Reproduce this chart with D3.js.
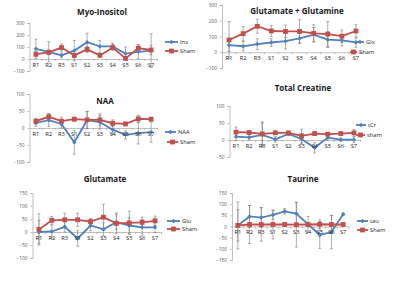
<!DOCTYPE html>
<html>
<head>
<meta charset="utf-8">
<script src="https://cdn.jsdelivr.net/npm/d3@7"></script>
<style>
  body { margin: 0; background: #fff; }
  svg text { font-family: "Open Sans", "Noto Sans", sans-serif; }
  .title { font-weight: bold; font-size: 8px; fill: #1a1a1a; }
  .tick text { font-size: 4.8px; fill: #595959; }
  .cat { font-size: 5.8px; fill: #262626; }
  .leg { font-size: 5.8px; fill: #262626; }
</style>
</head>
<body>
<svg id="chart" width="400" height="300"></svg>
<script>
// categories shared by every panel
const cats = ["R1", "R2", "R3", "S1", "S2", "S3", "S4", "S5", "S6", "S7"];

// Myo-Inositol
const myoIns = [85, 60, 30, 70, 140, 105, 105, 45, 60, 70];
const myoInsErr = [80, 85, 20, 85, 75, 50, 25, 55, 60, 140];
const myoSham = [40, 55, 95, 30, 80, 30, 95, 5, 90, 75];
const myoShamErr = [20, 20, 30, 20, 25, 15, 25, 10, 30, 40];
const myoTicks = [-100, 0, 100, 200, 300];

// Glutamate + Glutamine
const glxGlx = [45, 38, 52, 62, 70, 88, 112, 80, 76, 62];
const glxGlxErr = [40, 30, 35, 25, 50, 30, 45, 50, 35, 30];
const glxSham = [78, 118, 165, 135, 132, 132, 120, 115, 102, 135];
const glxShamErr = [117, 45, 45, 35, 40, 75, 55, 80, 40, 40];
const glxTicks = [-100, 0, 100, 200, 300];

// NAA
const naaNaa = [15, 23, 12, -42, 23, 17, -5, -20, -15, -12];
const naaNaaErr = [10, 18, 12, 35, 25, 20, 12, 12, 32, 30];
const naaSham = [20, 33, 20, 26, 24, 24, 14, 12, 27, 26];
const naaShamErr = [8, 10, 12, 5, 25, 18, 10, 5, 10, 5];
const naaTicks = [-100, -50, 0, 50, 100];

// Total Creatine
const tcrTcr = [10, 8, 15, 2, 18, 3, -23, 7, 1, 1];
const tcrTcrErr = [12, 8, 35, 8, 5, 15, 15, 8, 5, 8];
const tcrSham = [23, 22, 18, 21, 21, 12, 19, 17, 19, 21];
const tcrShamErr = [15, 5, 35, 5, 5, 20, 5, 5, 5, 10];
const tcrTicks = [-50, 0, 50, 100];

// Glutamate
const gluGlu = [0, 2, 20, -25, 25, 10, 38, 25, 18, 18];
const gluGluErr = [45, 25, 20, 30, 20, 25, 30, 30, 30, 20];
const gluSham = [10, 45, 47, 47, 40, 57, 33, 35, 37, 43];
const gluShamErr = [60, 15, 25, 25, 12, 50, 40, 45, 20, 18];
const gluTicks = [-100, -50, 0, 50, 100, 150];

// Taurine
const tauTau = [5, 45, 40, 52, 68, 58, 10, -38, -25, 55];
const tauTauErr = [105, 50, 45, 20, 12, 50, 35, 60, 75, 5];
const tauSham = [5, 9, 9, 9, 9, 8, 9, 10, 9, 9];
const tauShamErr = [70, 85, 75, 65, 5, 100, 5, 20, 40, 5];
const tauTicks = [-150, -100, -50, 0, 50, 100, 150];

const blue = "#4f81bd", red = "#c0504d", errColor = "#7a7a7a";

const panels = [
  {title: "Myo-Inositol", tx: 102, ty: 15, x0: 29.5, x1: 157.5, yTop: 23, yBot: 71, ticks: myoTicks,
   s1: myoIns, e1: myoInsErr, n1: "Ins", s2: myoSham, e2: myoShamErr, n2: "Sham",
   leg: [[165, 178, 180, 42], [165, 178, 180, 51]]},
  {title: "Glutamate + Glutamine", tx: 297, ty: 14, x0: 222, x1: 363, yTop: 5, yBot: 68, ticks: glxTicks,
   s1: glxGlx, e1: glxGlxErr, n1: "Glx", s2: glxSham, e2: glxShamErr, n2: "Sham",
   leg: [[356, 364, 366, 42], [350, 357, 359, 52]]},
  {title: "NAA", tx: 105, ty: 104, x0: 29.5, x1: 157.5, yTop: 94, yBot: 162, ticks: naaTicks,
   s1: naaNaa, e1: naaNaaErr, n1: "NAA", s2: naaSham, e2: naaShamErr, n2: "Sham",
   leg: [[165, 176, 178, 132], [167, 178, 180, 142]]},
  {title: "Total Creatine", tx: 303, ty: 91, x0: 229.5, x1: 360.5, yTop: 106, yBot: 157, ticks: tcrTicks,
   s1: tcrTcr, e1: tcrTcrErr, n1: "tCr", s2: tcrSham, e2: tcrShamErr, n2: "sham",
   leg: [[356, 366, 368, 125], [356, 365, 367, 135]]},
  {title: "Glutamate", tx: 105, ty: 182, x0: 32.5, x1: 161.5, yTop: 193, yBot: 258, ticks: gluTicks,
   s1: gluGlu, e1: gluGluErr, n1: "Glu", s2: gluSham, e2: gluShamErr, n2: "Sham",
   leg: [[167, 180, 182, 221], [167, 180, 182, 229]]},
  {title: "Taurine", tx: 303, ty: 182, x0: 232, x1: 349, yTop: 193, yBot: 260, ticks: tauTicks,
   s1: tauTau, e1: tauTauErr, n1: "tau", s2: tauSham, e2: tauShamErr, n2: "Sham",
   leg: [[357, 368, 370, 221], [357, 368, 370, 230]]}
];

const svg = d3.select("#chart");

function marker(g, kind, color, x, y) {
  if (kind === "diamond") {
    g.append("path")
      .attr("d", `M${x},${y - 2.2}L${x + 2.2},${y}L${x},${y + 2.2}L${x - 2.2},${y}Z`)
      .attr("fill", color);
  } else {
    g.append("rect")
      .attr("x", x - 2.4).attr("y", y - 2.4)
      .attr("width", 4.8).attr("height", 4.8)
      .attr("fill", color);
  }
}

panels.forEach(function (p) {
  const ticks = p.ticks;
  const x = d3.scaleBand().domain(cats).range([p.x0, p.x1]);
  const y = d3.scaleLinear().domain([d3.min(ticks), d3.max(ticks)]).range([p.yBot, p.yTop]);
  const cx = d => x(d) + x.bandwidth() / 2;
  const g = svg.append("g");

  // y axis
  const yAxis = d3.axisLeft(y).tickValues(ticks).tickSize(2).tickPadding(3);
  const ga = g.append("g").attr("transform", `translate(${p.x0},0)`).call(yAxis);
  ga.selectAll("path, line").attr("stroke", "#a6a6a6").attr("stroke-width", 0.7);

  // x axis at zero
  const gx = g.append("g").attr("transform", `translate(0,${y(0)})`)
    .call(d3.axisBottom(x).tickSize(2).tickSizeOuter(0).tickFormat(""));
  gx.selectAll("path, line").attr("stroke", "#a6a6a6").attr("stroke-width", 0.7);
  gx.selectAll(".tick line").attr("transform", `translate(${x.bandwidth() / 2},0)`);

  // error bars
  [[p.s1, p.e1], [p.s2, p.e2]].forEach(function (pair) {
    const vals = pair[0], errs = pair[1];
    cats.forEach(function (c, i) {
      const xc = cx(c), lo = y(vals[i] - errs[i]), hi = y(vals[i] + errs[i]);
      g.append("line").attr("x1", xc).attr("x2", xc).attr("y1", lo).attr("y2", hi)
        .attr("stroke", errColor).attr("stroke-width", 0.6);
      [lo, hi].forEach(yy => g.append("line").attr("x1", xc - 1.5).attr("x2", xc + 1.5)
        .attr("y1", yy).attr("y2", yy).attr("stroke", errColor).attr("stroke-width", 0.6));
    });
  });

  // series lines
  const line = d3.line().x((d, i) => cx(cats[i])).y(d => y(d));
  [[p.s1, blue, "diamond"], [p.s2, red, "square"]].forEach(function (s) {
    g.append("path").datum(s[0]).attr("d", line)
      .attr("fill", "none").attr("stroke", s[1]).attr("stroke-width", 1.8);
    s[0].forEach((v, i) => marker(g, s[2], s[1], cx(cats[i]), y(v)));
  });

  // category labels just under zero line
  g.selectAll("text.cat").data(cats).enter().append("text")
    .attr("class", "cat")
    .attr("x", d => cx(d)).attr("y", y(0) + 7.5)
    .attr("text-anchor", "middle")
    .text(d => d);

  // title
  g.append("text").attr("class", "title")
    .attr("x", p.tx).attr("y", p.ty).attr("text-anchor", "middle").text(p.title);

  // legend
  [[p.n1, blue, "diamond"], [p.n2, red, "square"]].forEach(function (s, k) {
    const l = p.leg[k];
    g.append("line").attr("x1", l[0]).attr("x2", l[1]).attr("y1", l[3]).attr("y2", l[3])
      .attr("stroke", s[1]).attr("stroke-width", 1.8);
    marker(g, s[2], s[1], (l[0] + l[1]) / 2, l[3]);
    g.append("text").attr("class", "leg").attr("x", l[2]).attr("y", l[3] + 2).text(s[0]);
  });
});
</script>
</body>
</html>
